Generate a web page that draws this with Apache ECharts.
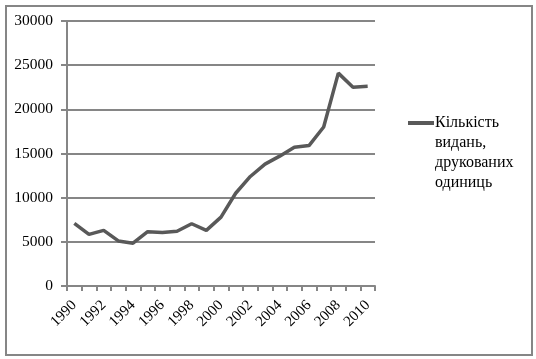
<!DOCTYPE html>
<html><head><meta charset="utf-8">
<script src="https://cdn.jsdelivr.net/npm/echarts@6/dist/echarts.min.js"></script>
<style>html,body{margin:0;padding:0;background:#fff}#c{width:536px;height:359px}</style>
</head><body><div id="c"></div>
<script>
const years = ['1990','1991','1992','1993','1994','1995','1996','1997','1998','1999','2000','2001','2002','2003','2004','2005','2006','2007','2008','2009','2010'];
const values = [7100,5850,6300,5100,4850,6150,6050,6200,7050,6300,7800,10500,12400,13800,14700,15700,15900,18000,24100,22500,22600];
const seriesName = 'Кількість видань, друкованих одиниць';
const yTicks = {min:0, max:30000, interval:5000};

const chart = echarts.init(document.getElementById('c'));
const grey = '#868686';
const font = 'Liberation Serif';
chart.setOption({
  animation:false,
  grid:{left:67, top:21, right:161, bottom:73, containLabel:false},
  xAxis:{type:'category', data:years, boundaryGap:true,
    axisLine:{lineStyle:{color:grey, width:2}},
    axisTick:{show:true, interval:0, length:5, lineStyle:{color:grey, width:2}},
    axisLabel:{interval:1, rotate:45, margin:17, color:'#000', fontFamily:font, fontSize:15}},
  yAxis:{type:'value', min:yTicks.min, max:yTicks.max, interval:yTicks.interval,
    axisLine:{show:true, lineStyle:{color:grey, width:2}},
    axisTick:{show:true, length:6, lineStyle:{color:grey, width:2}},
    splitLine:{lineStyle:{color:grey, width:2}},
    axisLabel:{margin:14, color:'#000', fontFamily:font, fontSize:15.5, formatter:function(v){return String(v);}}},
  legend:{show:true, left:403, top:48, orient:'vertical', itemWidth:26, itemHeight:4, itemGap:0,
    icon:'rect',
    formatter:function(){return '\n\n\nКількість\nвидань,\nдрукованих\nодиниць';},
    textStyle:{fontFamily:font, fontSize:16, color:'#000', lineHeight:20, padding:[0,0,0,-4]}},
  series:[{name:seriesName, type:'line', data:values, symbol:'none',
    lineStyle:{color:'#595959', width:3.5}, itemStyle:{color:'#595959'}}],
  graphic:[{type:'rect', shape:{x:6,y:6,width:526,height:349}, style:{fill:null, stroke:grey, lineWidth:2}, silent:true, z:100}]
});
</script></body></html>
